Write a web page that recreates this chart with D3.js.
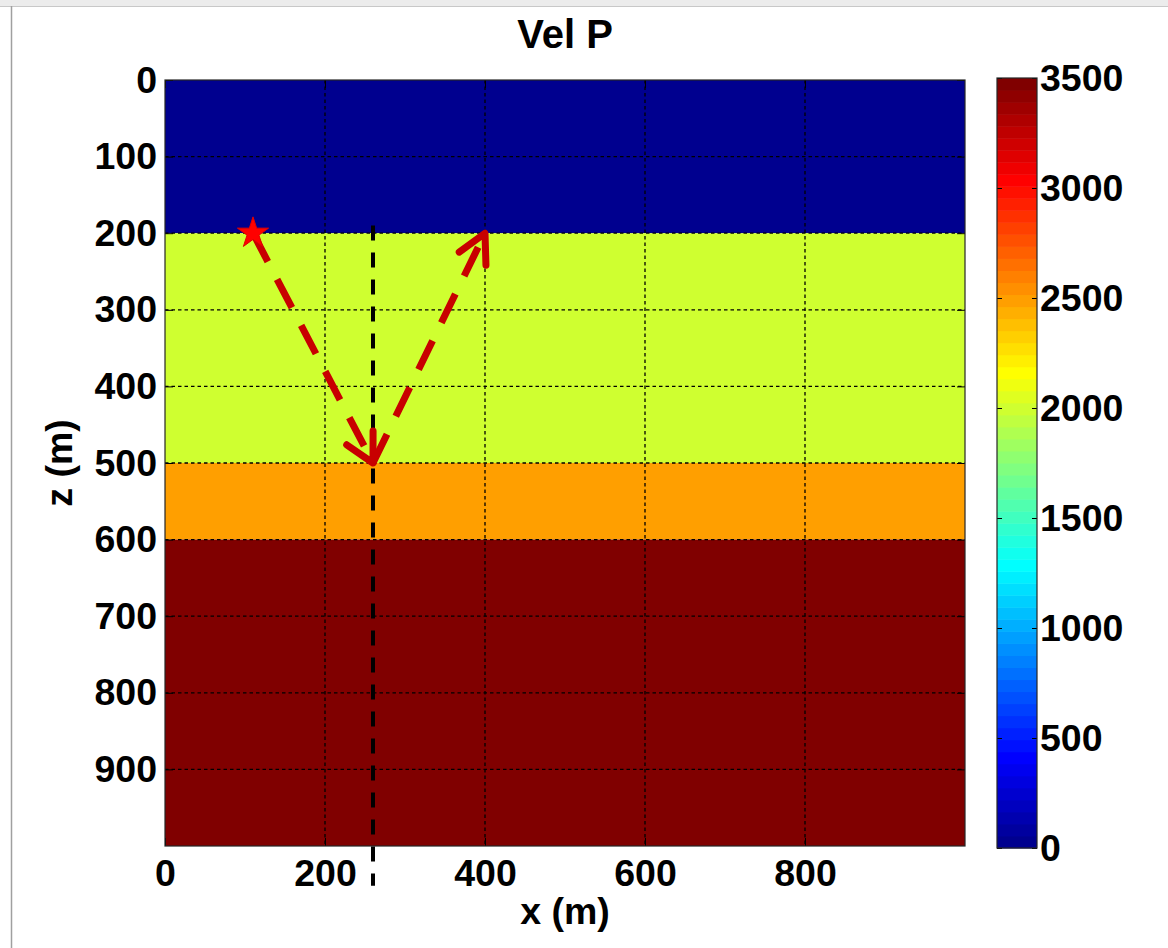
<!DOCTYPE html>
<html>
<head>
<meta charset="utf-8">
<script src="https://cdn.jsdelivr.net/npm/d3@7"></script>
<style>
  html, body { margin: 0; padding: 0; background: #fff; }
  svg { display: block; }
  text { font-family: "Liberation Sans", Arial, sans-serif; font-weight: bold; fill: #000; }
</style>
</head>
<body>
<svg id="chart" width="1168" height="948"></svg>
<script>
// ---- model data ----
const layerTop    = [0, 200, 500, 600];
const layerBottom = [200, 500, 600, 1000];
const velP        = [0, 2000, 2500, 3500];

const xTicks  = [0, 200, 400, 600, 800];
const zTicks  = [0, 100, 200, 300, 400, 500, 600, 700, 800, 900];
const cbTicks = [0, 500, 1000, 1500, 2000, 2500, 3000, 3500];

// ray path: source -> reflection point -> receiver
const rayX = [110, 260, 400];
const rayZ = [200, 500, 200];
// normal at reflection point
const normalX = 260;
const normalZ = [190, 1052];

const velMin = 0, velMax = 3500, nColors = 64;

// MATLAB-style jet(64) colormap
function jetMap(m) {
  const n = Math.ceil(m / 4);
  const u = [];
  for (let i = 1; i <= n; i++) u.push(i / n);
  for (let i = 1; i < n; i++) u.push(1);
  for (let i = n; i >= 1; i--) u.push(i / n);
  const g0 = Math.ceil(n / 2) - (m % 4 === 1 ? 1 : 0);
  const cmap = Array.from({length: m}, () => [0, 0, 0]);
  u.forEach((v, k) => {
    const g = g0 + k + 1, r = g + n, b = g - n;
    if (r >= 1 && r <= m) cmap[r - 1][0] = v;
    if (g >= 1 && g <= m) cmap[g - 1][1] = v;
    if (b >= 1 && b <= m) cmap[b - 1][2] = v;
  });
  return cmap.map(c => d3.rgb(c[0] * 255, c[1] * 255, c[2] * 255).formatHex());
}
const jet = jetMap(nColors);
const colorOf = v => {
  let idx = Math.floor((v - velMin) / (velMax - velMin) * nColors);
  idx = Math.max(0, Math.min(nColors - 1, idx));
  return jet[idx];
};

const svg = d3.select("#chart");

// window frame
svg.append("rect").attr("x", 0).attr("y", 0).attr("width", 1168).attr("height", 6).attr("fill", "#ececec");
svg.append("line").attr("x1", 0).attr("x2", 1168).attr("y1", 6.5).attr("y2", 6.5).attr("stroke", "#c8c8c8");
svg.append("line").attr("x1", 11.5).attr("x2", 11.5).attr("y1", 6).attr("y2", 948).attr("stroke", "#a0a0a0").attr("stroke-width", 1.5);

const x = d3.scaleLinear().domain([0, 1000]).range([165, 965]);
const z = d3.scaleLinear().domain([0, 1000]).range([80, 846]);
const cb = d3.scaleLinear().domain([velMin, velMax]).range([848, 78]);

const plot = svg.append("g");

// velocity layers
plot.selectAll("rect.layer")
  .data(velP.map((v, i) => ({v, top: layerTop[i], bot: layerBottom[i]})))
  .join("rect")
  .attr("class", "layer")
  .attr("x", x(0))
  .attr("width", x(1000) - x(0))
  .attr("y", d => z(d.top))
  .attr("height", d => z(d.bot) - z(d.top))
  .attr("fill", d => colorOf(d.v));

// dotted grid
const grid = plot.append("g").attr("stroke", "#000").attr("stroke-width", 1.3).attr("stroke-dasharray", "3.5,3");
grid.selectAll("line.gx").data(xTicks.filter(t => t > 0)).join("line")
  .attr("x1", d => x(d)).attr("x2", d => x(d)).attr("y1", z(0)).attr("y2", z(1000));
grid.selectAll("line.gz").data(zTicks.filter(t => t > 0)).join("line")
  .attr("y1", d => z(d)).attr("y2", d => z(d)).attr("x1", x(0)).attr("x2", x(1000));

// axes (ticks inside, box on)
const fs = 37.5;
const axB = svg.append("g").attr("transform", `translate(0,${z(1000)})`)
  .call(d3.axisBottom(x).tickValues(xTicks).tickSizeInner(-8).tickSizeOuter(0).tickPadding(13));
const axT = svg.append("g").attr("transform", `translate(0,${z(0)})`)
  .call(d3.axisTop(x).tickValues(xTicks).tickSizeInner(-8).tickSizeOuter(0).tickFormat(""));
const axL = svg.append("g").attr("transform", `translate(${x(0)},0)`)
  .call(d3.axisLeft(z).tickValues(zTicks).tickSizeInner(-8).tickSizeOuter(0).tickPadding(8));
const axR = svg.append("g").attr("transform", `translate(${x(1000)},0)`)
  .call(d3.axisRight(z).tickValues(zTicks).tickSizeInner(-8).tickSizeOuter(0).tickFormat(""));
[axB, axT, axL, axR].forEach(a => {
  a.select(".domain").remove();
  a.selectAll(".tick line").attr("stroke", "#000").attr("stroke-width", 1);
  a.selectAll("text").attr("font-size", fs).attr("font-family", null);
});

// box
svg.append("rect").attr("x", x(0)).attr("y", z(0))
  .attr("width", x(1000) - x(0)).attr("height", z(1000) - z(0))
  .attr("fill", "none").attr("stroke", "#262626").attr("stroke-width", 1.2);

// normal line at reflection point
svg.append("line")
  .attr("x1", x(normalX)).attr("x2", x(normalX))
  .attr("y1", z(normalZ[0])).attr("y2", z(normalZ[1]))
  .attr("stroke", "#000").attr("stroke-width", 4).attr("stroke-dasharray", "15,12");

// ray arrows
const rayColor = "#c80000";
const rays = svg.append("g").attr("stroke", rayColor).attr("fill", "none");
for (let i = 0; i < rayX.length - 1; i++) {
  const x0 = x(rayX[i]), y0 = z(rayZ[i]), x1 = x(rayX[i + 1]), y1 = z(rayZ[i + 1]);
  rays.append("line")
    .attr("x1", x0).attr("y1", y0).attr("x2", x1).attr("y2", y1)
    .attr("stroke-width", 7).attr("stroke-dasharray", "32,20");
  const ang = Math.atan2(y1 - y0, x1 - x0);
  const L = 32, half = Math.PI / 6.5;
  const p = a => [x1 - L * Math.cos(ang + a), y1 - L * Math.sin(ang + a)];
  const b1 = p(half), b2 = p(-half);
  rays.append("path")
    .attr("d", `M${b1[0]},${b1[1]}L${x1},${y1}L${b2[0]},${b2[1]}`)
    .attr("stroke-width", 7).attr("stroke-linecap", "round").attr("stroke-linejoin", "round");
}

// source star
svg.append("path")
  .attr("d", d3.symbol().type(d3.symbolStar).size(300)())
  .attr("transform", `translate(${x(rayX[0])},${z(rayZ[0])})`)
  .attr("fill", "#ff0000").attr("stroke", "#e00000").attr("stroke-width", 1);

// colorbar
const cbX0 = 997, cbX1 = 1037;
const step = (velMax - velMin) / nColors;
svg.append("g").selectAll("rect").data(d3.range(nColors)).join("rect")
  .attr("x", cbX0).attr("width", cbX1 - cbX0)
  .attr("y", i => cb(velMin + (i + 1) * step))
  .attr("height", i => cb(velMin + i * step) - cb(velMin + (i + 1) * step) + 0.5)
  .attr("fill", i => jet[i]);
const cbR = svg.append("g").attr("transform", `translate(${cbX1},0)`)
  .call(d3.axisRight(cb).tickValues(cbTicks).tickFormat(d3.format("d"))
    .tickSizeInner(-5).tickSizeOuter(0).tickPadding(3));
const cbL = svg.append("g").attr("transform", `translate(${cbX0},0)`)
  .call(d3.axisLeft(cb).tickValues(cbTicks).tickSizeInner(-5).tickSizeOuter(0).tickFormat(""));
[cbR, cbL].forEach(a => {
  a.select(".domain").remove();
  a.selectAll(".tick line").attr("stroke", "#000");
  a.selectAll("text").attr("font-size", fs).attr("font-family", null);
});
svg.append("rect").attr("x", cbX0).attr("y", cb(velMax))
  .attr("width", cbX1 - cbX0).attr("height", cb(velMin) - cb(velMax))
  .attr("fill", "none").attr("stroke", "#262626").attr("stroke-width", 1.2);

// titles
svg.append("text").attr("x", (x(0) + x(1000)) / 2).attr("y", 48)
  .attr("text-anchor", "middle").attr("font-size", 40).text("Vel P");
svg.append("text").attr("x", (x(0) + x(1000)) / 2).attr("y", 924)
  .attr("text-anchor", "middle").attr("font-size", fs).text("x (m)");
svg.append("text").attr("transform", `translate(72,${(z(0) + z(1000)) / 2}) rotate(-90)`)
  .attr("text-anchor", "middle").attr("font-size", fs).text("z (m)");
</script>
</body>
</html>
